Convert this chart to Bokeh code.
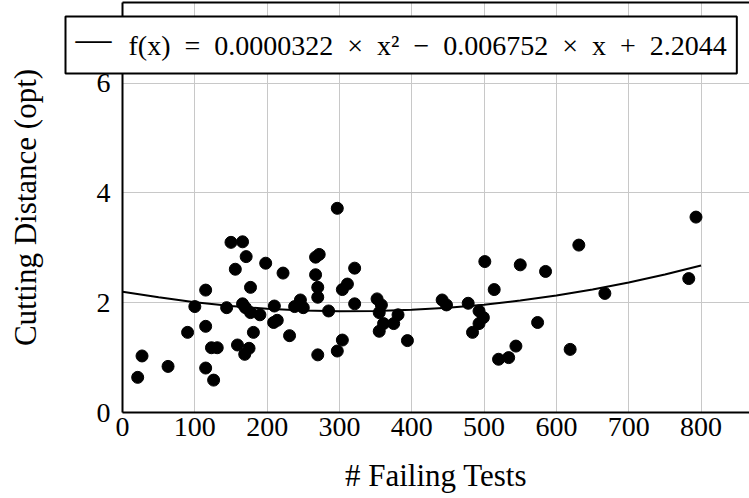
import math
from bokeh.plotting import figure
from bokeh.models import FixedTicker, Range1d, Label, ColumnDataSource, LinearAxis
from bokeh.core.properties import value
from bokeh.embed import file_html
from bokeh.resources import INLINE

# ---- data ----
failing_tests = [21, 27, 63, 90, 100, 115, 115, 115, 126, 123, 131, 144, 150, 166,
                 156, 171, 159, 169, 175, 166, 170, 177, 177, 181, 190, 198, 209,
                 214, 210, 222, 231, 238, 246, 250, 267, 272, 267, 270, 270, 270,
                 285, 297, 297, 304, 304, 311, 321, 321, 352, 358, 355, 361, 355,
                 375, 381, 394, 442, 448, 478, 493, 499, 493, 484, 501, 514, 520,
                 534, 544, 550, 574, 585, 619, 631, 667, 783, 793]
cutting_distance = [0.64, 1.03, 0.84, 1.46, 1.93, 2.23, 1.57, 0.81, 0.59, 1.18, 1.18,
                    1.91, 3.10, 3.11, 2.61, 2.84, 1.23, 1.06, 1.17, 1.98, 1.91, 2.28,
                    1.82, 1.46, 1.78, 2.72, 1.64, 1.68, 1.94, 2.54, 1.40, 1.93, 2.05,
                    1.91, 2.83, 2.88, 2.51, 2.28, 2.10, 1.05, 1.85, 3.72, 1.12, 1.32,
                    2.24, 2.34, 2.63, 1.98, 2.07, 1.96, 1.82, 1.62, 1.48, 1.62, 1.78,
                    1.31, 2.05, 1.96, 1.99, 1.85, 1.73, 1.62, 1.46, 2.75, 2.24, 0.97,
                    1.00, 1.21, 2.69, 1.64, 2.57, 1.15, 3.05, 2.17, 2.44, 3.56]
# fitted curve as drawn in the reference
fit_curve_x = [0, 50, 100, 150, 200, 250, 300, 350, 400, 450, 500, 550, 600, 650,
               700, 750, 800]
fit_curve_y = [2.20, 2.10, 2.01, 1.94, 1.89, 1.86, 1.845, 1.85, 1.87, 1.91, 1.965,
               2.04, 2.13, 2.24, 2.37, 2.515, 2.68]
x_ticks = [0, 100, 200, 300, 400, 500, 600, 700, 800]
y_ticks = [0, 2, 4, 6]
x_tick_labels = [str(t) for t in x_ticks]
y_tick_labels = [str(t) for t in y_ticks]
x_limits = (0, 867)
y_limits = (0, 7.47)
x_label = "# Failing Tests"
y_label = "Cutting Distance (opt)"
legend_label = ("f(x)\u2002=\u20020.0000322\u2002\u00d7\u2002x\u00b2\u2002\u2212\u2002"
                "0.006752\u2002\u00d7\u2002x\u2002+\u20022.2044")

FONT = "Liberation Serif"
FS = "28px"
FS_TITLE = "31px"
W, H = 749, 498
AX_LEFT, AX_TOP, AX_BOTTOM = 122, 2, 412   # pixel position of the axis box

# the drawing area covers the whole canvas; the axis box sits inside it
kx = (W - AX_LEFT) / (x_limits[1] - x_limits[0])
ky = (AX_BOTTOM - AX_TOP) / (y_limits[1] - y_limits[0])
x_rng = Range1d(x_limits[0] - AX_LEFT / kx, x_limits[1])
y_rng = Range1d(y_limits[0] - (H - AX_BOTTOM) / ky, y_limits[1] + AX_TOP / ky)

p = figure(width=W, height=H, output_backend="svg", toolbar_location=None,
           x_range=x_rng, y_range=y_rng,
           min_border_left=0, min_border_right=0, min_border_top=0,
           min_border_bottom=0)
p.outline_line_color = None
p.background_fill_color = "white"
p.border_fill_color = "white"

# grid restricted to the axis box
p.xgrid.ticker = FixedTicker(ticks=x_ticks)
p.ygrid.ticker = FixedTicker(ticks=y_ticks)
p.xgrid.bounds = x_limits
p.xgrid.cross_bounds = y_limits
p.ygrid.bounds = y_limits
p.ygrid.cross_bounds = x_limits
for g in (p.xgrid[0], p.ygrid[0]):
    g.grid_line_color = "#c8c8c8"
    g.grid_line_width = 1

# axis lines of the box
def box_axis(ax, loc, bounds):
    ax.ticker = FixedTicker(ticks=[])
    ax.fixed_location = loc
    ax.bounds = bounds
    ax.axis_line_color = "black"
    ax.axis_line_width = 2
    ax.minor_tick_line_color = None
    ax.major_tick_line_color = None

box_axis(p.xaxis[0], y_limits[0], x_limits)
box_axis(p.yaxis[0], x_limits[0], y_limits)
top = LinearAxis()
box_axis(top, y_limits[1], x_limits)
p.add_layout(top, "above")

# tick labels
xl = ColumnDataSource(dict(x=x_ticks, y=[y_limits[0]] * len(x_ticks), t=x_tick_labels))
p.text("x", "y", text="t", source=xl, text_font=value(FONT), text_font_size=FS,
       text_color="black", text_align="center", text_baseline="top", y_offset=5)
yl = ColumnDataSource(dict(x=[x_limits[0]] * len(y_ticks), y=y_ticks, t=y_tick_labels))
p.text("x", "y", text="t", source=yl, text_font=value(FONT), text_font_size=FS,
       text_color="black", text_align="right", text_baseline="middle", x_offset=-12)

# axis titles
p.add_layout(Label(x=(AX_LEFT + W) / 2, y=H - 474.5, x_units="screen", y_units="screen",
                   text=x_label, text_font=FONT, text_font_size=FS_TITLE,
                   text_color="black", text_align="center", text_baseline="middle"))
p.add_layout(Label(x=24.5, y=H - (AX_TOP + AX_BOTTOM) / 2, x_units="screen",
                   y_units="screen", angle=math.pi / 2,
                   text=y_label, text_font=FONT, text_font_size=FS_TITLE,
                   text_color="black", text_align="center", text_baseline="middle"))

# data
src = ColumnDataSource(dict(x=failing_tests, y=cutting_distance))
p.scatter("x", "y", source=src, size=12, color="black", marker="circle")
p.line(fit_curve_x, fit_curve_y, line_color="black", line_width=2)

# legend box
p.add_layout(Label(x=65, y=H - 44.5, x_units="screen", y_units="screen",
                   text=legend_label, text_font=FONT, text_font_size=FS,
                   text_color="black", text_align="left", text_baseline="middle",
                   padding=dict(left=63, right=10, top=13, bottom=13),
                   border_line_color="black", border_line_width=2,
                   background_fill_color="white", background_fill_alpha=1))
p.add_layout(Label(x=75, y=H - 38, x_units="screen", y_units="screen",
                   text="\u2014", text_font=FONT, text_font_size="36px",
                   text_color="black", text_align="left", text_baseline="middle"))

open("out.html", "w").write(file_html(p, INLINE))
